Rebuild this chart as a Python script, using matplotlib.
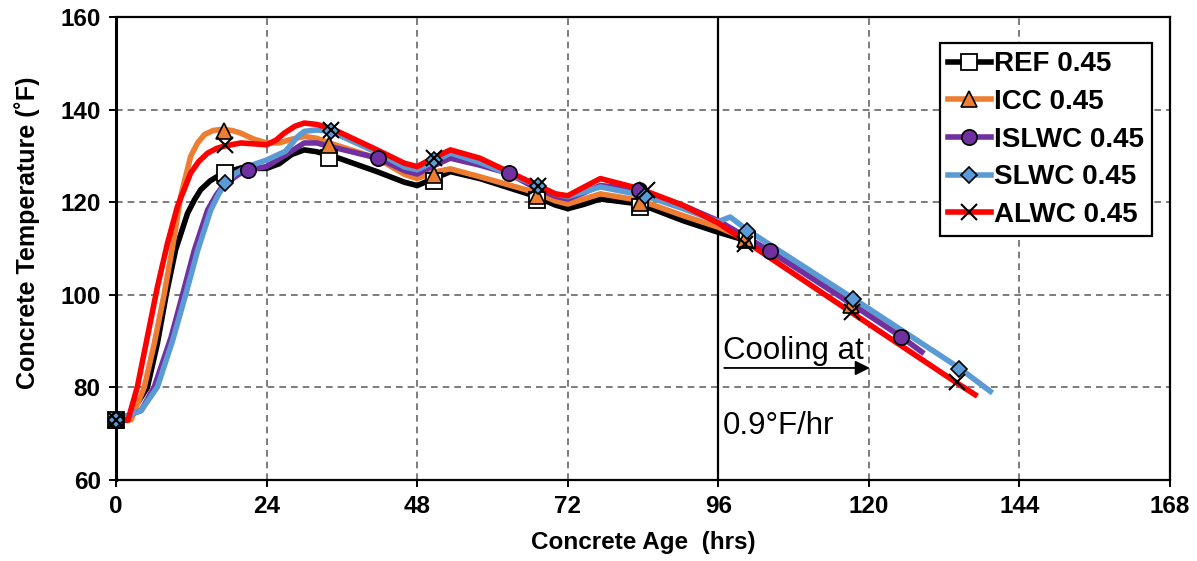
import matplotlib
matplotlib.use("Agg")
import matplotlib.pyplot as plt
from matplotlib.lines import Line2D

plt.rcParams['font.family'] = ['Liberation Sans', 'DejaVu Sans']

# ---- data (hrs, deg F) ----
ref_hr = [0, 2, 5, 6.6, 8, 9.5, 11.4, 12.5, 13.5, 15, 16.2, 18, 19.9, 22, 24, 26, 28, 30, 32, 34.7,
          41.6, 46, 48, 50.5, 53.3, 58, 66.6, 70, 72, 74.5, 77.2, 83.5, 90.4, 96, 100.5]
ref_t = [73, 73.5, 80, 89.5, 100, 109.7, 117.6, 120.5, 122.7, 124.6, 125.6, 126.6, 127.4, 127.3,
         127.3, 128.3, 130.3, 131.3, 130.9, 129.9, 126.6, 124.3, 123.6, 125, 126.6, 125.1, 121.4,
         119.4, 118.6, 119.5, 120.7, 119.6, 116, 113.5, 111.7]
ref_mk_hr = [0, 17.3, 34, 50.7, 67.1, 83.5, 100.5]
ref_mk_t = [73, 126.3, 129.5, 124.6, 120.5, 118.9, 111.9]

icc_hr = [0, 2.4, 4.5, 6.1, 7.7, 9.3, 10.3, 11.9, 13, 14.1, 15.5, 16.7, 18.5, 19.9, 22, 24, 26, 28,
          30, 32, 34, 41.6, 46, 48, 50.7, 53.3, 58, 66.6, 70, 72, 77.2, 83.5, 90.4, 96, 100.3, 110,
          117.1, 124.5]
icc_t = [73, 73, 80, 89.5, 100.3, 112.6, 121.2, 129.9, 132.8, 134.6, 135.5, 135.7, 135.5, 134.9,
         133.6, 132.8, 132.8, 133.6, 134.2, 133.8, 132.8, 129.5, 126, 125.1, 126.5, 127.2, 125.5,
         122.2, 120.3, 119.6, 121.8, 120.4, 117.1, 114.6, 112.1, 104.8, 98.4, 92]
icc_mk_hr = [0, 17.2, 34, 50.7, 67.1, 83.5, 100.3, 117.1]
icc_mk_t = [73, 135.3, 132.4, 125.9, 121.4, 119.8, 112.1, 97.8]

islwc_hr = [0, 4, 6.1, 8.8, 10.6, 12.5, 14.6, 16, 17.2, 19.9, 21, 24, 27, 30, 32, 34.2, 41.8, 46, 48,
            50.5, 53.3, 58, 62.6, 66.6, 70, 72, 74.5, 77.2, 83.4, 90.4, 96, 104.3, 115, 125.2, 128.8]
islwc_t = [73, 75, 80.1, 90.9, 100, 109.7, 118.3, 121.6, 123.8, 126.3, 127, 127.7, 130.2, 132.8,
           132.8, 132, 129.5, 126.8, 126.1, 127.8, 129.5, 128, 126.2, 123.3, 121.3, 120.7, 122,
           123.6, 122.7, 119.3, 116, 109.4, 100, 90.9, 87.3]
islwc_mk_hr = [0, 21, 41.8, 62.6, 83.4, 104.3, 125.2]
islwc_mk_t = [73, 127, 129.5, 126.2, 122.7, 109.4, 90.9]

slwc_hr = [0, 4, 6.6, 9, 11.1, 13, 15.1, 16.3, 17.3, 19, 21, 24, 27, 29, 30, 32, 34.2, 41.8, 46, 48,
           50.7, 53.3, 58, 67.2, 70, 72, 74.5, 77.2, 84.3, 90.4, 96, 97.9, 100.6, 117.4, 134.3, 139.7]
slwc_t = [73, 75, 80.1, 90, 100, 109.5, 118.3, 121.6, 123.8, 126.2, 127.7, 129.1, 131, 134.2, 135.3,
          135.6, 135.3, 130.6, 127.6, 127, 128.8, 130.6, 128.6, 123.6, 121.8, 121.2, 122.2, 123.3,
          121.4, 118.6, 115.8, 116.8, 114, 99.3, 84.3, 78.8]
slwc_mk_hr = [0, 17.3, 34.2, 50.7, 67.2, 84.3, 100.6, 117.4, 134.3]
slwc_mk_t = [73, 124.1, 135.3, 129.1, 123.6, 121.4, 113.7, 99.0, 84.0]

alwc_hr = [0, 1.9, 3.4, 5, 6.6, 8.2, 9.8, 11.9, 13.2, 14.6, 16, 17.2, 19.9, 22, 24, 25.5, 26.8, 28.5,
           30, 32, 34.7, 41.6, 46, 48, 50.5, 53.3, 58, 66.6, 70, 72, 74.5, 77.2, 83.5, 90.4, 96, 100.5,
           117.1, 134.1, 137.3]
alwc_t = [73, 72.9, 80.1, 90.9, 101.7, 111.1, 119.1, 126.3, 128.8, 130.6, 131.6, 132.1, 132.8, 132.6,
          132.4, 133.4, 134.9, 136.4, 137.1, 136.8, 135.7, 131.3, 128.4, 127.7, 129.5, 131.3, 129.5,
          124, 121.8, 121.4, 123.2, 125.1, 122.9, 119.3, 115.5, 111.4, 96.3, 80.9, 78.1]
alwc_mk_hr = [0, 17.3, 34.2, 50.7, 67.2, 84.6, 100.3, 117.3, 134.1]
alwc_mk_t = [73, 132.4, 135.7, 129.6, 123.6, 122.6, 111, 96.3, 81.2]

labels = ['REF 0.45', 'ICC 0.45', 'ISLWC 0.45', 'SLWC 0.45', 'ALWC 0.45']
colors = ['#000000', '#ED7D31', '#7030A0', '#5B9BD5', '#FF0000']

x_ticks = [0, 24, 48, 72, 96, 120, 144, 168]
y_ticks = [60, 80, 100, 120, 140, 160]

series = [
    (ref_hr, ref_t, ref_mk_hr, ref_mk_t, dict(marker='s', ms=12, mfc='white', mec='black', mew=1.3)),
    (icc_hr, icc_t, icc_mk_hr, icc_mk_t, dict(marker='^', ms=11, mfc='#ED7D31', mec='black', mew=1.2)),
    (islwc_hr, islwc_t, islwc_mk_hr, islwc_mk_t, dict(marker='o', ms=11, mfc='#7030A0', mec='black', mew=1.2)),
    (slwc_hr, slwc_t, slwc_mk_hr, slwc_mk_t, dict(marker='D', ms=8, mfc='#5B9BD5', mec='black', mew=1.2)),
    (alwc_hr, alwc_t, alwc_mk_hr, alwc_mk_t, dict(marker='x', ms=11, mfc='black', mec='black', mew=1.5)),
]

fig = plt.figure(figsize=(11.97, 5.61), dpi=100)
ax = fig.add_axes([116 / 1197, 1 - 480 / 561, (1170 - 116) / 1197, (480 - 17) / 561])

handles = []
for i, (hx, ht, mx, mt, mstyle) in enumerate(series):
    ax.plot(hx, ht, color=colors[i], lw=4, solid_capstyle='butt', solid_joinstyle='round', zorder=3 + i)
    ax.plot(mx, mt, ls='none', zorder=10 + i, clip_on=False, **mstyle)
    handles.append(Line2D([], [], color=colors[i], lw=4, **mstyle))

# grid + axes
ax.set_xlim(0, 168)
ax.set_ylim(60, 160)
ax.set_xticks(x_ticks)
ax.set_yticks(y_ticks)
ax.grid(True, color='#666666', ls=(0, (4, 3)), lw=1.2, zorder=1)
for s in ax.spines.values():
    s.set_linewidth(1.6)
ax.spines['left'].set_linewidth(2.2)
ax.tick_params(direction='out', length=5, width=1.4, labelsize=17.5, pad=6)
for lab in ax.get_xticklabels() + ax.get_yticklabels():
    lab.set_fontweight('bold')

ax.set_xlabel('Concrete Age  (hrs)', fontsize=17.5, fontweight='bold')
ax.set_ylabel('Concrete Temperature (˚F)', fontsize=18, fontweight='bold')
ax.xaxis.set_label_coords(0.5, -0.11)
ax.yaxis.set_label_coords(-0.072, 0.533)

# cooling start line + note
ax.axvline(96, color='black', lw=1.6, zorder=2)
ax.annotate('', xy=(120.6, 84.2), xytext=(96.5, 84.2),
            arrowprops=dict(arrowstyle='-|>', color='black', lw=1.3, mutation_scale=22), zorder=20)
ax.text(96.7, 86.2, 'Cooling at', fontsize=22.5, va='baseline', ha='left', zorder=20)
ax.text(96.7, 69.9, '0.9°F/hr', fontsize=22.5, va='baseline', ha='left', zorder=20)

leg = ax.legend(handles, labels, loc='upper right', bbox_to_anchor=(0.983, 0.944), borderaxespad=0,
                fancybox=False, edgecolor='black', framealpha=1, handlelength=1.55, handletextpad=0.1,
                labelspacing=0.42, borderpad=0.3, prop={'weight': 'bold', 'size': 20})
leg.get_frame().set_linewidth(1.6)
leg.set_zorder(30)

fig.savefig('out.png', dpi=100)
